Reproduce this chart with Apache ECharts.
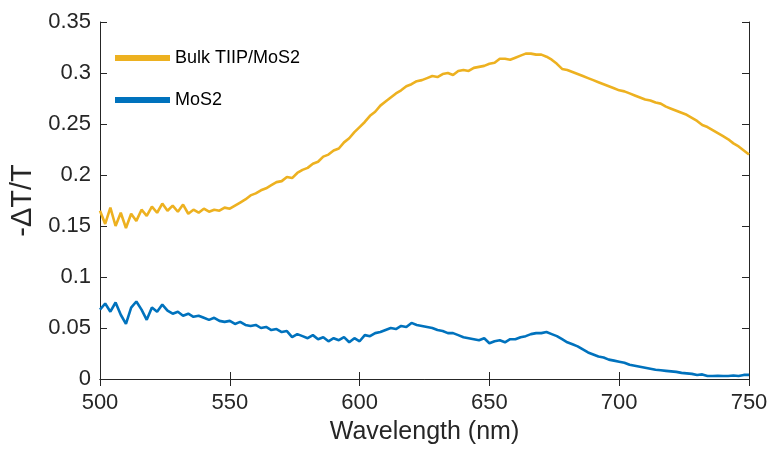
<!DOCTYPE html>
<html>
<head>
<meta charset="utf-8">
<script src="https://cdn.jsdelivr.net/npm/echarts@6/dist/echarts.min.js"></script>
<style>
html,body{margin:0;padding:0;background:#fff;}
#chart{width:772px;height:450px;}
</style>
</head>
<body>
<div id="chart"></div>
<script>
const wavelength = [500,502,504,506,508,510,512,514,516,518,520,522,524,526,528,530,532,534,536,538,540,542,544,546,548,550,552,554,556,558,560,562,564,566,568,570,572,574,576,578,580,582,584,586,588,590,592,594,596,598,600,602,604,606,608,610,612,614,616,618,620,622,624,626,628,630,632,634,636,638,640,642,644,646,648,650,652,654,656,658,660,662,664,666,668,670,672,674,676,678,680,682,684,686,688,690,692,694,696,698,700,702,704,706,708,710,712,714,716,718,720,722,724,726,728,730,732,734,736,738,740,742,744,746,748,750];

const bulkTIIP = [0.165,0.152,0.168,0.150,0.163,0.148,0.162,0.155,0.166,0.160,0.169,0.163,0.172,0.165,0.170,0.164,0.171,0.162,0.166,0.163,0.167,0.164,0.166,0.165,0.168,0.167,0.170,0.173,0.176,0.180,0.182,0.185,0.187,0.190,0.193,0.194,0.198,0.197,0.202,0.205,0.207,0.211,0.213,0.218,0.220,0.224,0.226,0.232,0.236,0.242,0.247,0.252,0.258,0.262,0.268,0.272,0.276,0.280,0.283,0.287,0.289,0.292,0.293,0.295,0.297,0.296,0.299,0.300,0.298,0.302,0.303,0.302,0.305,0.306,0.307,0.309,0.310,0.314,0.314,0.313,0.315,0.317,0.319,0.319,0.318,0.318,0.316,0.313,0.309,0.304,0.303,0.301,0.299,0.297,0.295,0.293,0.291,0.289,0.287,0.285,0.283,0.282,0.280,0.278,0.276,0.274,0.273,0.271,0.270,0.267,0.265,0.263,0.261,0.259,0.256,0.253,0.249,0.247,0.244,0.241,0.238,0.235,0.231,0.228,0.224,0.220];

const mos2 = [0.068,0.074,0.066,0.075,0.063,0.054,0.070,0.076,0.068,0.058,0.070,0.066,0.073,0.067,0.064,0.066,0.062,0.064,0.061,0.062,0.060,0.058,0.060,0.057,0.056,0.057,0.054,0.056,0.053,0.052,0.053,0.050,0.051,0.048,0.049,0.046,0.047,0.041,0.044,0.042,0.040,0.043,0.039,0.041,0.037,0.040,0.038,0.041,0.036,0.040,0.037,0.043,0.042,0.045,0.046,0.048,0.050,0.049,0.052,0.051,0.055,0.053,0.052,0.051,0.050,0.048,0.047,0.045,0.045,0.043,0.041,0.040,0.039,0.038,0.040,0.035,0.037,0.038,0.036,0.039,0.039,0.041,0.042,0.044,0.045,0.045,0.046,0.044,0.042,0.039,0.036,0.034,0.032,0.029,0.026,0.024,0.022,0.021,0.019,0.018,0.017,0.016,0.014,0.013,0.012,0.011,0.010,0.009,0.0085,0.008,0.0075,0.007,0.006,0.0055,0.005,0.004,0.0045,0.003,0.003,0.0032,0.003,0.003,0.0035,0.003,0.004,0.004];

const seriesNames = ['Bulk TIIP/MoS2', 'MoS2'];
const xTicks = [500, 550, 600, 650, 700, 750];
const yTicks = [0, 0.05, 0.1, 0.15, 0.2, 0.25, 0.3, 0.35];

const FONT = '"Liberation Sans", Arial, Helvetica, sans-serif';
const INK = '#262626';

function pairs(xs, ys) { return xs.map((x, i) => [x, ys[i]]); }

const chart = echarts.init(document.getElementById('chart'), null, {renderer: 'canvas'});

const baseAxisLine = {show: true, lineStyle: {color: INK, width: 1}};
const tickIn = {show: true, inside: true, length: 7, lineStyle: {color: INK, width: 1}};

chart.setOption({
  animation: false,
  backgroundColor: '#fff',
  grid: {left: 96, right: 23, top: 22, bottom: 67, containLabel: false},
  legend: {
    data: seriesNames,
    orient: 'vertical',
    left: 115,
    top: 49,
    padding: 0,
    itemWidth: 55,
    itemHeight: 6,
    itemGap: 24,
    icon: 'rect',
    textStyle: {fontFamily: FONT, fontSize: 18, color: '#000', lineHeight: 18}
  },
  xAxis: [{
    type: 'value', min: xTicks[0], max: xTicks[xTicks.length - 1], interval: 50,
    position: 'bottom',
    name: 'Wavelength (nm)', nameLocation: 'middle', nameGap: 41,
    nameTextStyle: {fontFamily: FONT, fontSize: 25, color: INK},
    axisLine: baseAxisLine, axisTick: tickIn,
    axisLabel: {fontFamily: FONT, fontSize: 22, color: INK, margin: 13},
    splitLine: {show: false}
  }, {
    type: 'value', min: xTicks[0], max: xTicks[xTicks.length - 1], interval: 50,
    position: 'top',
    axisLine: baseAxisLine, axisTick: tickIn,
    axisLabel: {show: false}, splitLine: {show: false}
  }],
  yAxis: [{
    type: 'value', min: yTicks[0], max: yTicks[yTicks.length - 1], interval: 0.05,
    position: 'left',
    name: '-ΔT/T', nameLocation: 'middle', nameGap: 63, nameRotate: 90,
    nameTextStyle: {fontFamily: FONT, fontSize: 29, color: INK},
    axisLine: baseAxisLine, axisTick: tickIn,
    axisLabel: {fontFamily: FONT, fontSize: 22, color: INK, margin: 9,
      formatter: v => String(Math.round(v * 100) / 100)},
    splitLine: {show: false}
  }, {
    type: 'value', min: yTicks[0], max: yTicks[yTicks.length - 1], interval: 0.05,
    position: 'right',
    axisLine: baseAxisLine, axisTick: tickIn,
    axisLabel: {show: false}, splitLine: {show: false}
  }],
  series: [{
    name: seriesNames[0], type: 'line', data: pairs(wavelength, bulkTIIP),
    showSymbol: false, symbol: 'none', color: '#EDB120',
    lineStyle: {width: 2.6, color: '#EDB120'}, xAxisIndex: 0, yAxisIndex: 0
  }, {
    name: seriesNames[1], type: 'line', data: pairs(wavelength, mos2),
    showSymbol: false, symbol: 'none', color: '#0072BD',
    lineStyle: {width: 2.6, color: '#0072BD'}, xAxisIndex: 0, yAxisIndex: 0
  }]
});
</script>
</body>
</html>
